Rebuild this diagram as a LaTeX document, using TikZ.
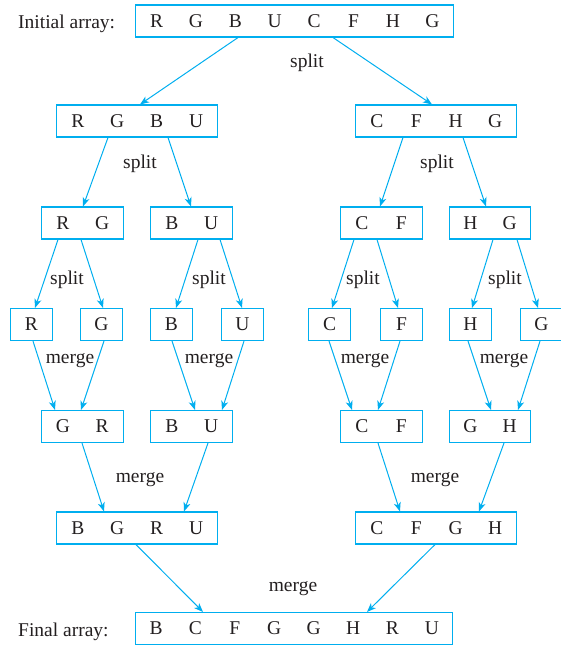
\documentclass[tikz,border=0pt]{standalone}
\usepackage{fontspec}
\setmainfont{Liberation Serif}
\usetikzlibrary{arrows.meta}
\definecolor{cy}{RGB}{0,174,239}
\definecolor{ink}{RGB}{35,31,32}
\newcommand\cel[1]{\makebox[39.4pt]{#1}}
\begin{document}
\begin{tikzpicture}[x=1pt,y=-1pt,
  arr/.style={draw=cy, line width=1pt, -{Stealth[length=9pt,width=7pt,inset=2.5pt]}},
  box/.style={draw=cy, line width=1.1pt, inner xsep=1.3pt, inner ysep=0pt,
    minimum height=32pt, text=ink, font=\fontsize{19.5}{23}\selectfont},
  lbl/.style={text=ink, inner sep=0pt, font=\fontsize{19.5}{23}\selectfont}]
\useasboundingbox (0,0) rectangle (561,648);
% level 0
\node[box] (init) at (294.5,21) {\cel{R}\cel{G}\cel{B}\cel{U}\cel{C}\cel{F}\cel{H}\cel{G}};
\node[lbl, anchor=base west] (initlbl) at (18,28) {Initial array:};
% level 1
\node[box] (rgbu) at (137,121) {\cel{R}\cel{G}\cel{B}\cel{U}};
\node[box] (cfhg) at (436,121) {\cel{C}\cel{F}\cel{H}\cel{G}};
% level 2
\node[box] (rg) at (82.5,223) {\cel{R}\cel{G}};
\node[box] (bu) at (191.5,223) {\cel{B}\cel{U}};
\node[box] (cf) at (381.5,223) {\cel{C}\cel{F}};
\node[box] (hg) at (490,223) {\cel{H}\cel{G}};
% level 3
\node[box] (r1) at (31.5,324.5) {\cel{R}};
\node[box] (g1) at (101.5,324.5) {\cel{G}};
\node[box] (b1) at (171.5,324.5) {\cel{B}};
\node[box] (u1) at (242.5,324.5) {\cel{U}};
\node[box] (c1) at (329.5,324.5) {\cel{C}};
\node[box] (f1) at (401.5,324.5) {\cel{F}};
\node[box] (h1) at (470.5,324.5) {\cel{H}};
\node[box] (g2) at (541.5,324.5) {\cel{G}};
% level 4
\node[box] (gr) at (82.5,426.5) {\cel{G}\cel{R}};
\node[box] (bu2) at (191.5,426.5) {\cel{B}\cel{U}};
\node[box] (cf2) at (381.5,426.5) {\cel{C}\cel{F}};
\node[box] (gh) at (490,426.5) {\cel{G}\cel{H}};
% level 5
\node[box] (bgru) at (137,528) {\cel{B}\cel{G}\cel{R}\cel{U}};
\node[box] (cfgh) at (436,528) {\cel{C}\cel{F}\cel{G}\cel{H}};
% final
\node[box] (fin) at (294,628.5) {\cel{B}\cel{C}\cel{F}\cel{G}\cel{G}\cel{H}\cel{R}\cel{U}};
\node[lbl, anchor=base west] (finlbl) at (18,636.5) {Final array:};
% labels
\node[lbl] (s0) at (307,63) {split};
\node[lbl] (s1) at (140,164) {split};
\node[lbl] (s2) at (437,164) {split};
\node[lbl] (s3) at (67,280) {split};
\node[lbl] (s4) at (209,280) {split};
\node[lbl] (s5) at (363,280) {split};
\node[lbl] (s6) at (505,280) {split};
\node[lbl] (m1) at (70,361) {merge};
\node[lbl] (m2) at (209,361) {merge};
\node[lbl] (m3) at (365,361) {merge};
\node[lbl] (m4) at (504,361) {merge};
\node[lbl] (m5) at (140,480) {merge};
\node[lbl] (m6) at (435,480) {merge};
\node[lbl] (m7) at (293,589) {merge};
% arrows
\draw[arr] ([xshift=-56.5pt]init.south) -- ([xshift=3pt]rgbu.north);
\draw[arr] ([xshift=38.5pt]init.south) -- ([xshift=-4pt]cfhg.north);
\draw[arr] ([xshift=-29pt]rgbu.south) -- ([xshift=0.5pt]rg.north);
\draw[arr] ([xshift=31pt]rgbu.south) -- ([xshift=-0.5pt]bu.north);
\draw[arr] ([xshift=-33pt]cfhg.south) -- ([xshift=-1.5pt]cf.north);
\draw[arr] ([xshift=27pt]cfhg.south) -- ([xshift=-4pt]hg.north);
\draw[arr] ([xshift=-24.5pt]rg.south) -- ([xshift=3.5pt]r1.north);
\draw[arr] ([xshift=-1.5pt]rg.south) -- ([xshift=1.5pt]g1.north);
\draw[arr] ([xshift=6.5pt]bu.south) -- ([xshift=4.5pt]b1.north);
\draw[arr] ([xshift=28.5pt]bu.south) -- ([xshift=-0.5pt]u1.north);
\draw[arr] ([xshift=-27.5pt]cf.south) -- ([xshift=2.5pt]c1.north);
\draw[arr] ([xshift=-4.5pt]cf.south) -- ([xshift=-3.5pt]f1.north);
\draw[arr] ([xshift=3pt]hg.south) -- ([xshift=1.5pt]h1.north);
\draw[arr] ([xshift=27pt]hg.south) -- ([xshift=-3.5pt]g2.north);
\draw[arr] ([xshift=1.5pt]r1.south) -- ([xshift=-27.5pt]gr.north);
\draw[arr] ([xshift=2.5pt]g1.south) -- ([xshift=-1.5pt]gr.north);
\draw[arr] ([xshift=0.5pt]b1.south) -- ([xshift=3.5pt]bu2.north);
\draw[arr] ([xshift=1.5pt]u1.south) -- ([xshift=30.5pt]bu2.north);
\draw[arr] ([xshift=-0.5pt]c1.south) -- ([xshift=-29.5pt]cf2.north);
\draw[arr] ([xshift=-1.5pt]f1.south) -- ([xshift=-3.5pt]cf2.north);
\draw[arr] ([xshift=-2.5pt]h1.south) -- ([xshift=1pt]gh.north);
\draw[arr] ([xshift=-1.5pt]g2.south) -- ([xshift=28pt]gh.north);
\draw[arr] ([xshift=-0.5pt]gr.south) -- ([xshift=-33pt]bgru.north);
\draw[arr] ([xshift=16.5pt]bu2.south) -- ([xshift=47pt]bgru.north);
\draw[arr] ([xshift=-3.5pt]cf2.south) -- ([xshift=-36pt]cfgh.north);
\draw[arr] ([xshift=14pt]gh.south) -- ([xshift=43pt]cfgh.north);
\draw[arr] ([xshift=-1pt]bgru.south) -- ([xshift=-91pt]fin.north);
\draw[arr] ([xshift=-1pt]cfgh.south) -- ([xshift=73pt]fin.north);
\end{tikzpicture}
\end{document}
